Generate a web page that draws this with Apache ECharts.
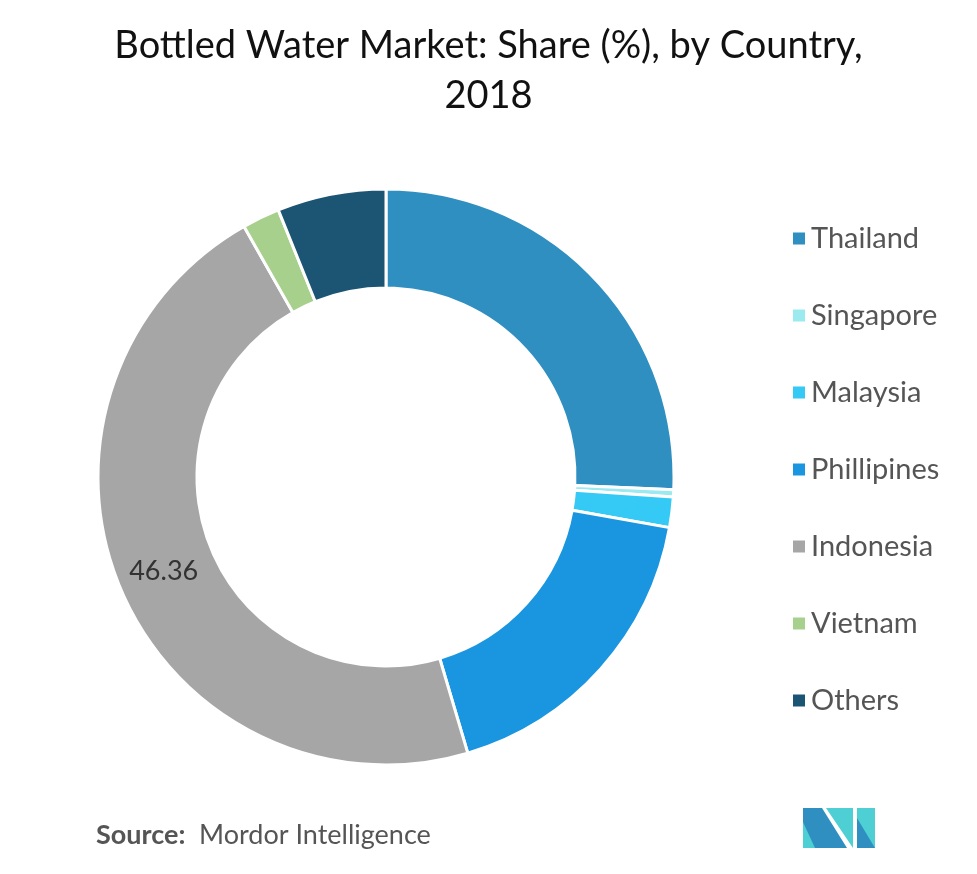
<!DOCTYPE html>
<html><head><meta charset="utf-8">
<script src="https://cdn.jsdelivr.net/npm/echarts@6/dist/echarts.min.js"></script>
<style>html,body{margin:0;padding:0;background:#fff}#c{width:977px;height:874px}</style>
</head><body><div id="c"></div>
<script>
const categories = ['Thailand','Singapore','Malaysia','Phillipines','Indonesia','Vietnam','Others'];
const values = [25.7, 0.4, 1.7, 17.6, 46.36, 2.1, 6.1];
const colors = ['#2E8FC0','#9BEAF0','#35C9F5','#1A95E0','#A6A6A6','#A7D08C','#1C5573'];
const labeled = ['Indonesia'];

const chart = echarts.init(document.getElementById('c'));
chart.setOption({
  backgroundColor:'#fff',
  animation:false,
  title:{
    text:'Bottled Water Market: Share (%), by Country,\n2018',
    left:'center', top:16,
    textStyle:{fontFamily:'Lato', fontWeight:'normal', fontSize:38, color:'#111', lineHeight:50}
  },
  legend:{
    orient:'vertical', left:786, top:219, itemWidth:14, itemHeight:14, itemGap:48,
    icon:'rect',
    textStyle:{fontFamily:'Lato', fontSize:29, color:'#555', padding:[0,0,0,0]},
    data:categories
  },
  series:[{
    type:'pie', center:[386,477], radius:[189,288], startAngle:90, clockwise:true,
    avoidLabelOverlap:false,
    itemStyle:{borderColor:'#fff', borderWidth:3},
    label:{show:false},
    labelLine:{show:false},
    data:categories.map((n,i)=>({name:n, value:values[i], itemStyle:{color:colors[i]},
      label:{show:labeled.includes(n), position:'inside', formatter:'{c}', fontFamily:'Lato', fontSize:27, color:'#333'}}))
  }],
  graphic:[
    {type:'text', left:96, top:822, style:{text:'Source:', fontFamily:'Lato', fontWeight:'bold', fontSize:27, fill:'#555'}},
    {type:'text', left:199, top:822, style:{text:'Mordor Intelligence', fontFamily:'Lato', fontSize:27, fill:'#555'}},
    {type:'polygon', shape:{points:[[803,808],[822,808],[847,848],[803,848]]}, style:{fill:'#2E8FC0'}},
    {type:'polygon', shape:{points:[[803,822],[815,848],[803,848]]}, style:{fill:'#4ECFD3'}},
    {type:'polygon', shape:{points:[[826,808],[853,808],[853,848]]}, style:{fill:'#4ECFD3'}},
    {type:'polygon', shape:{points:[[857,808],[875,808],[875,848],[857,848]]}, style:{fill:'#4ECFD3'}},
    {type:'polygon', shape:{points:[[857,818],[875,848],[857,848]]}, style:{fill:'#2E8FC0'}}
  ]
});
</script></body></html>
